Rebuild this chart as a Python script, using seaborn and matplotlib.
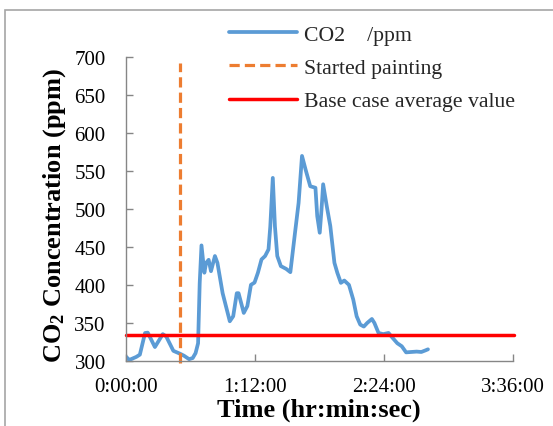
import matplotlib
matplotlib.use("Agg")
import matplotlib.pyplot as plt
import matplotlib.patches as mpatches
import seaborn as sns
import pandas as pd

# time in minutes since start, CO2 in ppm
time_min = [0, 2, 5.9, 7.9, 10.8, 12.3, 16.3, 20.7, 22.6, 26.6, 30.5, 32.5, 35.4, 37.4, 39, 40.4,
            41.3, 42.3, 43.9, 44.9, 46.3, 47.6, 49.8, 51.2, 54.1, 58.1, 60, 62, 63, 65.9, 67.9,
            69.9, 71.9, 73.8, 75.8, 77.8, 79.7, 80.7, 82.1, 83.3, 84.6, 86.6, 89.6, 91.9, 94.5,
            96.5, 98.4, 100.4, 103, 105.9, 106.9, 108.3, 109.3, 110.2, 112.2, 114.2, 116.5,
            118.1, 120.1, 122, 124.6, 127, 128.9, 130.9, 132.9, 134.8, 137.4, 138.8, 141.1,
            143.7, 146.7, 149, 151.6, 154.1, 156.5, 159.4, 162.4, 165, 167.3, 168.7]
co2_ppm = [305.7, 301, 305, 308, 336.5, 337, 318, 335, 332, 313, 309, 306.6, 302, 303.5, 310, 323,
           402, 452, 416, 429, 433, 418, 438, 429, 389, 352, 358.6, 389, 389, 363, 372,
           400, 403, 416, 433.5, 438, 446.7, 477, 541, 477, 438, 424.7, 421, 416.7, 468.7,
           508, 570, 552, 530, 528, 490.7, 468.7, 499.6, 532.6, 504, 477.5, 429,
           416, 402.6, 405.7, 400, 380.6, 358.6, 347.6, 345, 349.8, 355, 349.8, 336.6,
           335, 336.6, 330, 323, 319, 311, 311.5, 312, 311.5, 313.6, 315]

painting_start_min = 30.5
painting_line_range = [297, 693]
base_case_avg = 333.4

x_ticks = [0, 72, 144, 216]
x_tick_labels = ["0:00:00", "1:12:00", "2:24:00", "3:36:00"]
y_ticks = [300, 350, 400, 450, 500, 550, 600, 650, 700]

sns.set_theme(style="white")
plt.rcParams["font.family"] = ["Liberation Serif", "DejaVu Serif"]
plt.rcParams["mathtext.fontset"] = "custom"
plt.rcParams["mathtext.rm"] = "Liberation Serif:bold"
plt.rcParams["mathtext.bf"] = "Liberation Serif:bold"
plt.rcParams["mathtext.default"] = "bf"

W, H = 553, 427
fig = plt.figure(figsize=(W / 100, H / 100), dpi=100)
x0, x1, y0, y1 = 125.7, 512.7, 58.3, 361.7
ax = fig.add_axes([x0 / W, 1 - y1 / H, (x1 - x0) / W, (y1 - y0) / H])

df = pd.DataFrame({"t": time_min, "co2": co2_ppm})
sns.lineplot(data=df, x="t", y="co2", ax=ax, color="#5B9BD5", lw=2.7,
             label="CO2    /ppm", solid_joinstyle="round", solid_capstyle="round")
ax.plot([painting_start_min, painting_start_min], painting_line_range, color="#ED7D31",
        lw=2.3, ls=(0, (3.2, 1.6)), label="Started painting", clip_on=False)
ax.axhline(base_case_avg, xmin=0, xmax=1.004, color="#FF0000", lw=2.5,
           label="Base case average value", clip_on=False)

ax.set_xlim(0, 216)
ax.set_ylim(300, 700)
ax.set_xticks(x_ticks)
ax.set_xticklabels(x_tick_labels)
ax.set_yticks(y_ticks)

for s in ["top", "right"]:
    ax.spines[s].set_visible(False)
for s in ["left", "bottom"]:
    ax.spines[s].set_color("#868686")
    ax.spines[s].set_linewidth(1.0)

ax.tick_params(axis="both", direction="in", length=5, width=1.0, color="#868686",
               labelsize=15, labelcolor="black")
ax.tick_params(axis="y", pad=14.4, left=True)
ax.tick_params(axis="x", pad=12, bottom=True)

ax.set_xlabel("Time (hr:min:sec)", fontsize=19, fontweight="bold", color="black")
ax.set_ylabel(r"CO$_2$ Concentration (ppm)", fontsize=19, fontweight="bold", color="black")
ax.xaxis.label.set_va("center")
ax.xaxis.set_label_coords(0.5, -0.159)
ax.yaxis.label.set_va("center")
ax.yaxis.set_label_coords(-0.185, 0.4835)

leg = ax.legend(loc="upper left", bbox_to_anchor=(228.6 / W, 1 - 25.5 / H),
                bbox_transform=fig.transFigure, frameon=False, fontsize=15.7,
                handlelength=3.15, handletextpad=0.3, labelspacing=0.6, borderpad=0,
                borderaxespad=0)

rect = mpatches.Rectangle((5 / W, -0.1), 1.2, 1.1 - 11 / H, transform=fig.transFigure,
                          fill=False, edgecolor="#a6a6a6", lw=1.2)
fig.patches.append(rect)

fig.savefig("out.png", dpi=100)
